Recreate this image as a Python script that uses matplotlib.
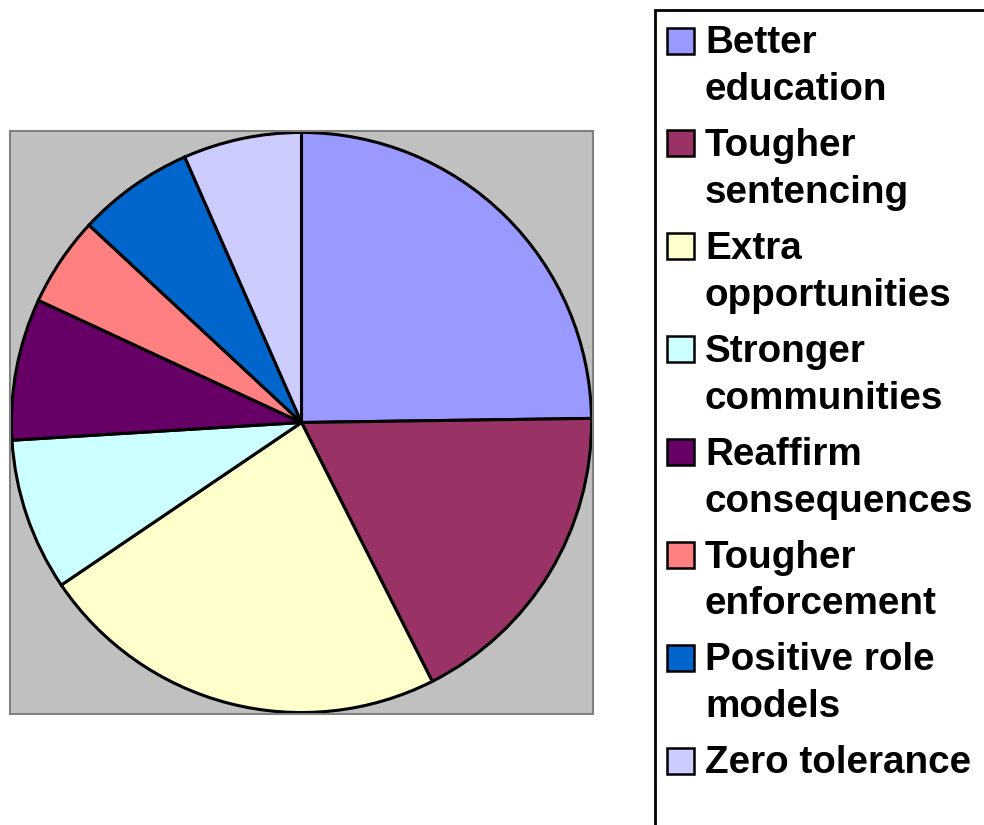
import matplotlib.pyplot as plt
from matplotlib.patches import Rectangle

plt.rcParams['font.family'] = ['Liberation Sans', 'DejaVu Sans']

labels = ["Better\neducation", "Tougher\nsentencing", "Extra\nopportunities",
          "Stronger\ncommunities", "Reaffirm\nconsequences", "Tougher\nenforcement",
          "Positive role\nmodels", "Zero tolerance"]
values = [24.8, 17.8, 23.0, 8.5, 7.9, 5.0, 6.5, 6.6]
colors = ["#9999FF", "#993366", "#FFFFCC", "#CCFFFF",
          "#660066", "#FF8080", "#0066CC", "#CCCCFF"]

W, H = 984, 825
fig = plt.figure(figsize=(W / 100, H / 100), dpi=100)

# pie plot area (grey box)
ax = fig.add_axes([10 / W, (H - 714) / H, 583 / W, 583 / H])
ax.set_facecolor("#C0C0C0")
ax.pie(values, colors=colors, startangle=90, counterclock=False,
       radius=0.995, wedgeprops=dict(edgecolor="black", linewidth=2.2))
ax.set_xlim(-1, 1)
ax.set_ylim(-1, 1)
ax.set_aspect("auto")
ax.set_xticks([])
ax.set_yticks([])
for s in ax.spines.values():
    s.set_color("#808080")
    s.set_linewidth(1.5)
ax.set_frame_on(True)

# legend drawn in pixel coordinates
lg = fig.add_axes([0, 0, 1, 1])
lg.set_xlim(0, W)
lg.set_ylim(H, 0)
lg.axis("off")
lg.add_patch(Rectangle((655, 10), 400, 900, facecolor="white",
                       edgecolor="black", linewidth=2))
y0 = 53
step = 102.9
for i, (lab, col) in enumerate(zip(labels, colors)):
    yb = y0 + i * step
    lg.add_patch(Rectangle((667, yb - 25.5), 27, 26, facecolor=col,
                           edgecolor="black", linewidth=1.8))
    for j, line in enumerate(lab.split("\n")):
        lg.text(705, yb + j * 47, line, fontsize=27.8, fontweight="bold",
                va="baseline", ha="left")

fig.savefig("out.png", dpi=100)
